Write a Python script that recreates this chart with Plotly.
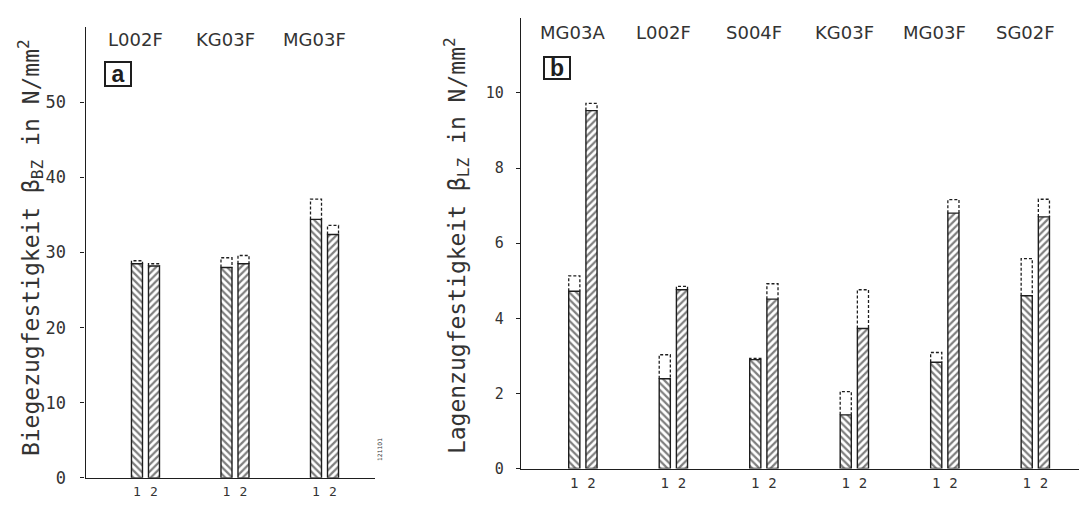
import plotly.graph_objects as go

# ---------------- data ----------------
cats_a = ["L002F", "KG03F", "MG03F"]
a1_mean = [28.5, 28.0, 34.4]
a1_max = [28.9, 29.3, 37.1]
a2_mean = [28.2, 28.5, 32.4]
a2_max = [28.5, 29.6, 33.6]
yticks_a = [0, 10, 20, 30, 40, 50]

cats_b = ["MG03A", "L002F", "S004F", "KG03F", "MG03F", "SG02F"]
b1_mean = [4.72, 2.39, 2.90, 1.43, 2.83, 4.60]
b1_max = [5.13, 3.03, 2.93, 2.05, 3.09, 5.59]
b2_mean = [9.53, 4.76, 4.51, 3.73, 6.80, 6.70]
b2_max = [9.72, 4.85, 4.92, 4.76, 7.16, 7.17]
yticks_b = [0, 2, 4, 6, 8, 10]

series_labels = ["1", "2"]

# ---------------- style ----------------
PAGE_W, PAGE_H = 1087, 506
PAD = 8                      # default body margin of the page
W, H = PAGE_W - PAD, PAGE_H - PAD
INK = "#1e1e1e"
TXT = "#333333"
BW = 0.123      # bar width in category units
OFF = 0.095     # offset of bar 1 / bar 2 from group centre
LAB_OFF = -0.11 # offset of the group name above
MONO = "DejaVu Sans Mono"
SANS = "DejaVu Sans"


def fx(p):
    return (p - PAD) / W


def fy(p):
    return 1 - (p - PAD) / H


fig = go.Figure()


def add_panel(n, means, maxs, xa, ya):
    idx = list(range(n))
    offs = [-OFF, OFF]
    shapes = ["\\", "/"]
    for s in range(2):
        xs = [i + offs[s] for i in idx]
        fig.add_trace(go.Bar(
            x=xs, y=means[s], width=BW, xaxis=xa, yaxis=ya,
            marker=dict(color="white", line=dict(color=INK, width=1.4),
                        pattern=dict(shape=shapes[s], fgcolor="#000000", bgcolor="white",
                                     size=5, solidity=0.45)),
            hoverinfo="skip", showlegend=False))
        px, py = [], []
        for x, lo, hi in zip(xs, means[s], maxs[s]):
            px += [x - BW / 2, x - BW / 2, x + BW / 2, x + BW / 2, None]
            py += [lo, hi, hi, lo, None]
        fig.add_trace(go.Scatter(
            x=px, y=py, mode="lines", xaxis=xa, yaxis=ya,
            line=dict(color=INK, width=1.3, dash="3px,2px"),
            hoverinfo="skip", showlegend=False))
    tv, tt = [], []
    for i in idx:
        for s in range(2):
            tv.append(i + offs[s])
            tt.append(series_labels[s])
    return tv, tt


tva, tta = add_panel(len(cats_a), [a1_mean, a2_mean], [a1_max, a2_max], "x", "y")
tvb, ttb = add_panel(len(cats_b), [b1_mean, b2_mean], [b1_max, b2_max], "x2", "y2")

axis_common = dict(showgrid=False, zeroline=False, showline=True,
                   linecolor=INK, linewidth=1.3)

fig.update_layout(
    width=W, height=H,
    margin=dict(l=0, r=0, t=0, b=0),
    paper_bgcolor="white", plot_bgcolor="white",
    showlegend=False, barmode="overlay",
    xaxis=dict(domain=[fx(85.5), fx(375)], range=[-0.670, 2.564], anchor="y",
               tickmode="array", tickvals=tva, ticktext=tta, ticks="",
               tickfont=dict(family=MONO, size=13, color=TXT),
               ticklabelstandoff=1, **axis_common),
    yaxis=dict(domain=[fy(487.5), fy(27)], range=[0, 60.06], anchor="x",
               tickmode="array", tickvals=yticks_a, ticks="outside", ticklen=4,
               tickcolor=INK, tickfont=dict(family=MONO, size=17, color=TXT),
               ticklabelstandoff=11, **axis_common),
    xaxis2=dict(domain=[fx(521), 1.0], range=[-0.684, 5.661 - PAD / 89.2], anchor="y2",
                tickmode="array", tickvals=tvb, ticktext=ttb, ticks="",
                tickfont=dict(family=MONO, size=14, color=TXT),
                ticklabelstandoff=1, **axis_common),
    yaxis2=dict(domain=[fy(478), fy(18)], range=[0, 12.0], anchor="x2",
                tickmode="array", tickvals=yticks_b, ticks="outside", ticklen=4,
                tickcolor=INK, tickfont=dict(family=MONO, size=15, color=TXT),
                ticklabelstandoff=9, **axis_common),
)

ann = []
for i, c in enumerate(cats_a):
    ann.append(dict(x=i + LAB_OFF, y=fy(40), xref="x", yref="paper", text=c,
                    showarrow=False, xanchor="center", yanchor="middle",
                    font=dict(family=SANS, size=18, color=TXT)))
for i, c in enumerate(cats_b):
    ann.append(dict(x=i + LAB_OFF, y=fy(33), xref="x2", yref="paper", text=c,
                    showarrow=False, xanchor="center", yanchor="middle",
                    font=dict(family=SANS, size=18, color=TXT)))

# panel letters
ann.append(dict(x=fx(117.5), y=fy(75.5), xref="paper", yref="paper", text="<b>a</b>",
                showarrow=False, xanchor="center", yanchor="middle",
                bordercolor=INK, borderwidth=2, borderpad=0,
                width=24, height=22, font=dict(family="Liberation Sans", size=23, color=INK)))
ann.append(dict(x=fx(556.5), y=fy(69), xref="paper", yref="paper", text="<b>b</b>",
                showarrow=False, xanchor="center", yanchor="middle",
                bordercolor=INK, borderwidth=2, borderpad=0,
                width=24, height=20, font=dict(family="Liberation Sans", size=23, color=INK)))

# axis titles
ann.append(dict(x=fx(30), y=fy(253), xref="paper", yref="paper", textangle=-90,
                xanchor="center", yanchor="middle",
                text="Biegezugfestigkeit β<sub>BZ</sub> in N/mm<sup>2</sup>",
                showarrow=False, font=dict(family=MONO, size=23, color=TXT)))
ann.append(dict(x=fx(456), y=fy(251), xref="paper", yref="paper", textangle=-90,
                xanchor="center", yanchor="middle",
                text="Lagenzugfestigkeit β<sub>LZ</sub> in N/mm<sup>2</sup>",
                showarrow=False, font=dict(family=MONO, size=23, color=TXT)))

# tiny figure numbers
ann.append(dict(x=fx(380), y=fy(459), xref="paper", yref="paper", textangle=-90,
                xanchor="center", yanchor="middle",
                text="121101", showarrow=False, font=dict(family=SANS, size=6, color=TXT)))
ann.append(dict(x=fx(1081), y=fy(448), xref="paper", yref="paper", textangle=-90,
                xanchor="center", yanchor="middle",
                text="121102", showarrow=False, font=dict(family=SANS, size=6, color=TXT)))

fig.update_layout(annotations=ann)
fig.write_html("out.html")
